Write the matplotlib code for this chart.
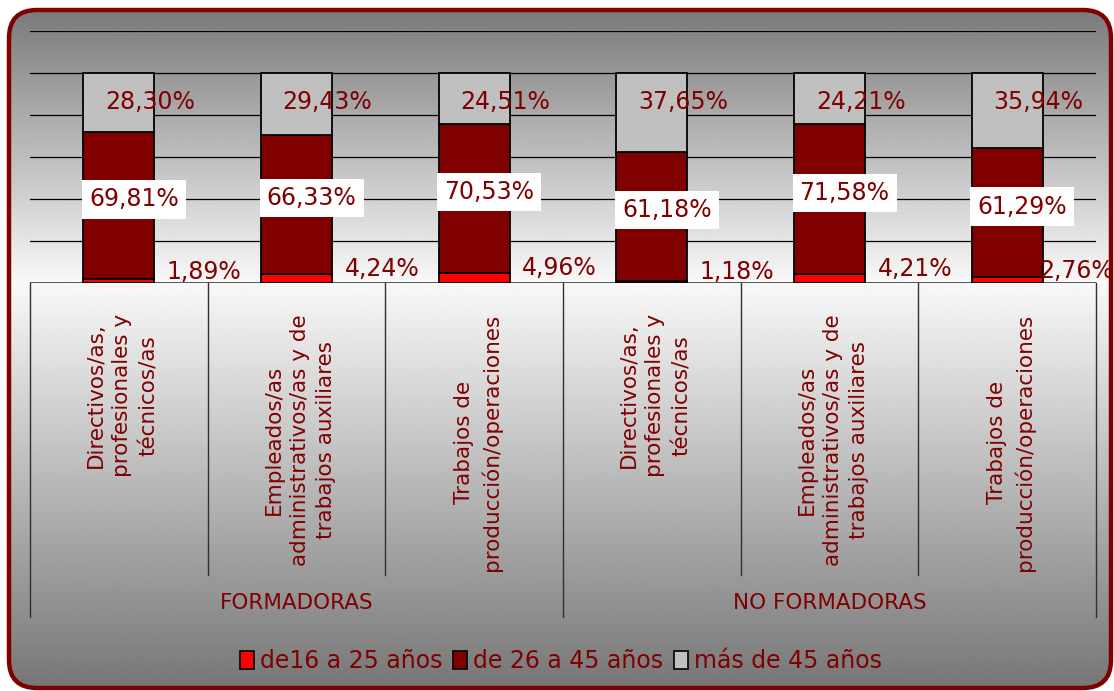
import matplotlib
matplotlib.use("Agg")
import matplotlib.pyplot as plt
import matplotlib.transforms as mtransforms
from matplotlib.patches import FancyBboxPatch, Patch
import numpy as np

# datos
categorias = [
    "Directivos/as,\nprofesionales y\ntécnicos/as",
    "Empleados/as\nadministrativos/as y de\ntrabajos auxiliares",
    "Trabajos de\nproducción/operaciones",
    "Directivos/as,\nprofesionales y\ntécnicos/as",
    "Empleados/as\nadministrativos/as y de\ntrabajos auxiliares",
    "Trabajos de\nproducción/operaciones",
]
grupos = ["FORMADORAS", "NO FORMADORAS"]
de16_25 = [1.89, 4.24, 4.96, 1.18, 4.21, 2.76]
de26_45 = [69.81, 66.33, 70.53, 61.18, 71.58, 61.29]
mas45 = [28.30, 29.43, 24.51, 37.65, 24.21, 35.94]
series = ["de16 a 25 años", "de 26 a 45 años", "más de 45 años"]

rojo = "#FF0000"
granate = "#800000"
gris = "#C0C0C0"
texto = "#800000"

def fmt(v):
    return f"{v:.2f}%".replace(".", ",")

fig = plt.figure(figsize=(11.14, 6.91), dpi=100)
fig.patch.set_facecolor("white")

# fondo degradado con borde redondeado
bg = fig.add_axes([0, 0, 1, 1], zorder=0)
bg.set_axis_off()
H = 691
yy = np.arange(H)
claro_y = 283
top_c, mid_c, bot_c = 0.46, 0.975, 0.46
col = np.where(yy < claro_y,
               top_c + (mid_c - top_c) * (yy / claro_y),
               mid_c + (bot_c - mid_c) * ((yy - claro_y) / (H - claro_y)))
grad = np.repeat(col[:, None], 4, axis=1)
img = bg.imshow(grad, cmap="gray", vmin=0, vmax=1, aspect="auto",
                extent=[0, 1, 0, 1], origin="upper")
marco = FancyBboxPatch((0.09, 0.03), 11.02, 6.78,
                       boxstyle="round,pad=0,rounding_size=0.28",
                       transform=fig.dpi_scale_trans,
                       facecolor="none", edgecolor=granate, linewidth=3.2,
                       zorder=5)
bg.add_patch(marco)
img.set_clip_path(marco)

ax = fig.add_axes([30 / 1114, (691 - 283) / 691, 1066 / 1114, 252 / 691], zorder=1)
ax.set_facecolor("none")
x = np.arange(len(categorias))
ancho = 0.40

ax.bar(x, de16_25, ancho, color=rojo, edgecolor="black", linewidth=1.3, zorder=3)
ax.bar(x, de26_45, ancho, bottom=de16_25, color=granate, edgecolor="black",
       linewidth=1.3, zorder=3)
base = np.array(de16_25) + np.array(de26_45)
ax.bar(x, mas45, ancho, bottom=base, color=gris, edgecolor="black",
       linewidth=1.3, zorder=3)

xmax = len(x) - 0.5
for i in range(len(x)):
    # etiqueta del primer tramo a la derecha de la barra, sin salirse
    xl = min(x[i] + ancho / 2 + 0.07, xmax + 0.08 - 0.40)
    ax.text(xl, de16_25[i] / 2 + 4.5, fmt(de16_25[i]), color=texto,
            fontsize=17, ha="left", va="center", zorder=4)
    ax.text(x[i] + 0.085, de16_25[i] + de26_45[i] / 2 + 3, fmt(de26_45[i]),
            color=texto, fontsize=17, ha="center", va="center", zorder=4,
            bbox=dict(boxstyle="square,pad=0.3", facecolor="white",
                      edgecolor="none"))
    ax.text(x[i] + 0.175, 86, fmt(mas45[i]), color=texto, fontsize=17,
            ha="center", va="center", zorder=4)

ax.set_xlim(-0.5, xmax)
ax.set_ylim(0, 120)
ax.set_yticks(np.arange(0, 121, 20))
ax.set_yticklabels([])
ax.tick_params(length=0)
ax.set_xticks([])
ax.yaxis.grid(True, color="black", linewidth=0.9)
ax.set_axisbelow(True)
for s in ax.spines.values():
    s.set_visible(False)
ax.axhline(0, color="#404040", linewidth=1.2, zorder=2)

# etiquetas de categorías y grupos
tr = mtransforms.blended_transform_factory(ax.transData, fig.transFigure)
for i, c in enumerate(categorias):
    ax.text(x[i] + 0.02, 1 - 314 / 691, c, transform=tr, rotation=90,
            rotation_mode="anchor", ha="right", va="center",
            multialignment="center", fontsize=15.5, color=texto,
            linespacing=1.38)
for k in range(len(x) + 1):
    fin = 617 if k % 3 == 0 else 575
    ax.plot([k - 0.5, k - 0.5], [1 - 283 / 691, 1 - fin / 691], transform=tr,
            color="#303030", linewidth=1.0, clip_on=False)
for g, nombre in enumerate(grupos):
    ax.text(g * 3 + 1, 1 - 603 / 691, nombre, transform=tr, ha="center",
            va="center", fontsize=15.5, color=texto)

handles = [Patch(facecolor=c, edgecolor="black", linewidth=1.2)
           for c in (rojo, granate, gris)]
fig.legend(handles, series, loc="center", bbox_to_anchor=(561 / 1114, 1 - 661 / 691),
           ncol=3, frameon=False, fontsize=17, labelcolor=texto,
           handlelength=0.6, handleheight=0.8, handletextpad=0.25,
           columnspacing=0.45, borderpad=0)

fig.savefig("out.png", dpi=100)
